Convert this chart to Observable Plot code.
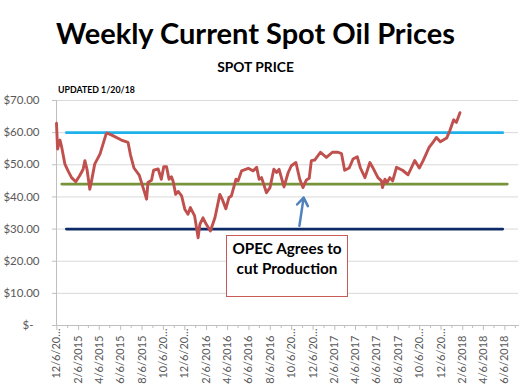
<!DOCTYPE html>
<html>
<head>
<meta charset="utf-8">
<script src="https://cdn.jsdelivr.net/npm/d3@7"></script>
<script src="https://cdn.jsdelivr.net/npm/@observablehq/plot@0.6"></script>
<style>
  html, body { margin: 0; padding: 0; background: #fff; }
  #wrap { position: relative; width: 520px; height: 390px; overflow: hidden; font-family: Lato, "Open Sans", sans-serif; }
  #wrap > svg { position: absolute; left: 0; top: 0; }
  #overlay { pointer-events: none; }
</style>
</head>
<body>
<div id="wrap"></div>
<script>
// ---- data ----
const title = "Weekly Current Spot Oil Prices";
const subtitle = "SPOT PRICE";
const updatedNote = "UPDATED 1/20/18";
const annotationLines = ["OPEC Agrees to", "cut Production"];

const weekDates = [
  "2014-12-05","2014-12-08","2014-12-15","2014-12-19","2014-12-29","2015-01-07","2015-01-17","2015-01-29",
  "2015-02-09","2015-02-19","2015-02-24","2015-03-02","2015-03-10","2015-03-15","2015-03-24","2015-04-08",
  "2015-04-25","2015-04-28","2015-05-16","2015-06-08","2015-06-27","2015-07-04","2015-07-14","2015-07-29",
  "2015-08-09","2015-08-19","2015-08-23","2015-09-02","2015-09-08","2015-09-21","2015-09-30","2015-10-07",
  "2015-10-15","2015-10-22","2015-10-29","2015-11-03","2015-11-10","2015-11-17","2015-11-27","2015-12-06",
  "2015-12-15","2015-12-22","2016-01-03","2016-01-13","2016-01-18","2016-01-27","2016-02-04","2016-02-17",
  "2016-03-01","2016-03-15","2016-03-23","2016-04-01","2016-04-10","2016-04-17","2016-04-30","2016-05-06",
  "2016-05-16","2016-06-04","2016-06-18","2016-06-28","2016-07-05","2016-07-12","2016-07-26","2016-08-05",
  "2016-08-16","2016-08-24","2016-08-31","2016-09-14","2016-09-26","2016-10-05","2016-10-18","2016-10-29",
  "2016-11-07","2016-11-17","2016-11-25","2016-12-01","2016-12-11","2016-12-27","2017-01-13","2017-01-30",
  "2017-02-15","2017-02-25","2017-03-06","2017-03-19","2017-03-30","2017-04-11","2017-04-20","2017-05-03",
  "2017-05-17","2017-05-28","2017-06-09","2017-06-19","2017-06-22","2017-06-29","2017-07-05","2017-07-13",
  "2017-07-21","2017-08-01","2017-08-18","2017-09-03","2017-09-22","2017-10-05","2017-10-16","2017-11-02",
  "2017-11-13","2017-11-23","2017-12-04","2017-12-22","2017-12-31","2018-01-11","2018-01-19","2018-01-29"
];
const spotPrices = [
  62.9,54.9,57.7,55.9,50.2,48.1,46.0,44.7,
  46.6,48.6,51.3,48.6,42.4,45.0,50.2,53.3,
  59.4,59.9,59.0,57.7,57.0,53.1,49.0,46.8,
  42.9,39.3,44.5,45.2,48.3,48.7,45.5,49.4,
  49.4,45.5,46.3,44.7,40.8,41.7,40.3,36.2,
  34.6,36.7,34.1,27.3,31.5,33.5,31.7,29.4,
  33.5,40.8,39.0,36.3,39.8,40.3,45.5,45.0,
  48.1,48.9,48.1,49.2,45.5,46.0,41.3,42.9,
  48.6,47.6,48.6,43.1,47.6,49.7,50.7,45.5,
  42.9,45.3,45.8,51.3,51.5,53.9,52.3,53.9,
  53.9,53.5,48.3,49.0,51.8,52.5,49.0,46.0,
  50.7,48.6,46.0,45.0,42.9,45.5,44.5,46.0,
  45.0,49.2,48.3,46.9,51.3,49.0,51.3,55.4,
  57.0,58.5,57.2,58.3,60.6,64.0,63.2,66.2
];

// reference level lines
const levelNames  = ["high", "mid", "low"];
const levelValues = [60, 44, 30];
const levelColors = ["#1eb1ea", "#77933c", "#0b2a66"];
const levelStarts = ["2015-01-02", "2014-12-20", "2015-01-02"];
const levelEnds   = ["2018-05-31", "2018-06-13", "2018-05-31"];

// annotation arrow (OPEC agreement)
const arrowFrom = { date: "2016-10-28", value: 31.0 };
const arrowTo   = { date: "2016-11-09", value: 39.8 };

// axis
const yTicks = [10, 20, 30, 40, 50, 60, 70];
const xTickLabels = [
  "12/6/2014","2/6/2015","4/6/2015","6/6/2015","8/6/2015","10/6/2015","12/6/2015",
  "2/6/2016","4/6/2016","6/6/2016","8/6/2016","10/6/2016","12/6/2016",
  "2/6/2017","4/6/2017","6/6/2017","8/6/2017","10/6/2017","12/6/2017",
  "2/6/2018","4/6/2018","6/6/2018"
];

// ---- build ----
const parseISO = d3.utcParse("%Y-%m-%d");
const parseMDY = d3.utcParse("%m/%d/%Y");
const series = weekDates.map((d, i) => ({date: parseISO(d), price: spotPrices[i]}));
const levels = [];
levelNames.forEach((n, i) => {
  levels.push({name: n, date: parseISO(levelStarts[i]), value: levelValues[i]});
  levels.push({name: n, date: parseISO(levelEnds[i]), value: levelValues[i]});
});
const arrows = [{x1: parseISO(arrowFrom.date), y1: arrowFrom.value, x2: parseISO(arrowTo.date), y2: arrowTo.value}];

const labelMap = new Map(xTickLabels.map(s => [+parseMDY(s), s]));
const majorDates = xTickLabels.map(parseMDY);
const minorDates = majorDates.map(d => d3.utcMonth.offset(d, 1));
const fmt = d => { const s = labelMap.get(+d); return s.length > 8 ? s.slice(0, 7) + "…" : s; };
const longDates = majorDates.filter(d => labelMap.get(+d).length > 8);
const shortDates = majorDates.filter(d => labelMap.get(+d).length <= 8);

const axisGray = "#bfbfbf";
const textGray = "#595959";

const chart = Plot.plot({
  width: 520,
  height: 390,
  marginTop: 100,
  marginBottom: 65,
  marginLeft: 56,
  marginRight: 2,
  style: {fontFamily: "Lato, 'Open Sans', sans-serif", background: "transparent"},
  x: {type: "utc", domain: [parseISO("2014-12-05"), parseISO("2018-07-15")]},
  y: {domain: [0, 70]},
  marks: [
    Plot.gridY(yTicks, {stroke: "#d9d9d9", strokeOpacity: 1}),
    Plot.frame({anchor: "left", stroke: axisGray}),
    Plot.frame({anchor: "bottom", stroke: axisGray}),
    Plot.axisY(yTicks, {tickSize: 4, tickPadding: 13, stroke: axisGray, fill: textGray, fontSize: 11.5,
      tickFormat: d => "$" + d.toFixed(2), label: null}),
    Plot.axisY([0], {tickSize: 4, tickPadding: 19, stroke: axisGray, fill: textGray, fontSize: 11.5,
      tickFormat: () => "$-", label: null}),
    Plot.axisX(majorDates, {tickSize: 5, stroke: axisGray, fill: "none", label: null}),
    Plot.axisX(minorDates, {tickSize: 3, stroke: axisGray, fill: "none", label: null}),
    Plot.axisX(longDates, {tickSize: 0, tickPadding: 3, tickRotate: -90, tickFormat: fmt, fill: textGray, fontSize: 11, label: null}),
    Plot.axisX(shortDates, {tickSize: 0, tickPadding: 10, tickRotate: -90, tickFormat: fmt, fill: textGray, fontSize: 11, label: null}),
    Plot.line(levels, {x: "date", y: "value", z: "name", stroke: d => levelColors[levelNames.indexOf(d.name)], strokeWidth: 2.75}),
    Plot.lineY(series, {x: "date", y: "price", stroke: "#c0504d", strokeWidth: 2.9, strokeLinejoin: "round"}),
    Plot.arrow(arrows, {x1: "x1", y1: "y1", x2: "x2", y2: "y2", stroke: "#4f81bd", strokeWidth: 2.5, headLength: 10, headAngle: 70})
  ]
});
document.getElementById("wrap").appendChild(chart);

// ---- overlay texts ----
const ns = "http://www.w3.org/2000/svg";
const ov = document.createElementNS(ns, "svg");
ov.setAttribute("id", "overlay");
ov.setAttribute("width", 520);
ov.setAttribute("height", 390);
const sel = d3.select(ov);
const font = "Lato, 'Open Sans', sans-serif";
sel.append("text").attr("x", 255.5).attr("y", 44).attr("text-anchor", "middle")
  .attr("font-family", font).attr("font-weight", "bold").attr("font-size", 29).attr("fill", "#000").text(title);
sel.append("text").attr("x", 255.5).attr("y", 72).attr("text-anchor", "middle")
  .attr("font-family", font).attr("font-weight", "bold").attr("font-size", 13.8).attr("fill", "#000").text(subtitle);
sel.append("text").attr("x", 58).attr("y", 93).attr("text-anchor", "start")
  .attr("font-family", font).attr("font-weight", "bold").attr("font-size", 8.8).attr("fill", "#000").text(updatedNote);
sel.append("rect").attr("x", 226.5).attr("y", 235.5).attr("width", 121).attr("height", 61)
  .attr("fill", "#fff").attr("stroke", "#c85b58").attr("stroke-width", 1);
annotationLines.forEach((t, i) => {
  sel.append("text").attr("x", 287).attr("y", 253.5 + i * 20).attr("text-anchor", "middle")
    .attr("font-family", font).attr("font-weight", "bold").attr("font-size", 15.3).attr("fill", "#000").text(t);
});
document.getElementById("wrap").appendChild(ov);
</script>
</body>
</html>
